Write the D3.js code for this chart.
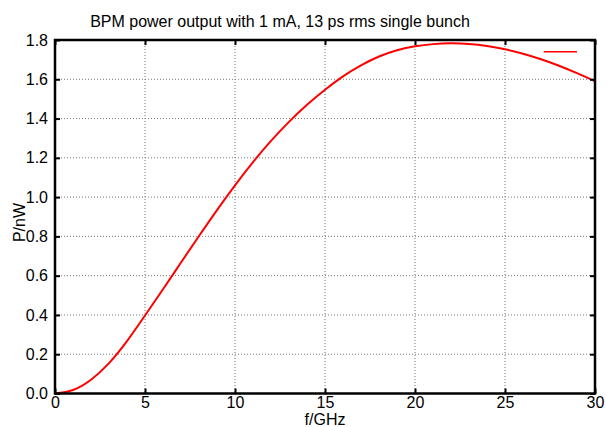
<!DOCTYPE html>
<html>
<head>
<meta charset="utf-8">
<script src="https://cdn.jsdelivr.net/npm/d3@7"></script>
<style>
  body { margin: 0; background: #fff; }
  text { font-family: "Liberation Sans", Arial, sans-serif; fill: #000; }
</style>
</head>
<body>
<div id="chart"></div>
<script>
// Valeurs (f en GHz, P en nW)
const freqGHz = [0, 1, 2, 3, 4, 5, 6, 7, 8, 9, 10, 11, 12, 13, 14, 15,
  16, 17, 18, 19, 20, 21, 22, 23, 24, 25, 26, 27, 28, 29, 30];
const powerNW = [0, 0.018, 0.07, 0.155, 0.267, 0.397, 0.531, 0.667, 0.802, 0.934, 1.06, 1.178, 1.286, 1.383, 1.47, 1.547,
  1.615, 1.671, 1.716, 1.748, 1.768, 1.779, 1.783, 1.78, 1.77, 1.753, 1.73, 1.702, 1.669, 1.631, 1.59];
const xTicks = [0, 5, 10, 15, 20, 25, 30];
const yTicks = [0, 0.2, 0.4, 0.6, 0.8, 1.0, 1.2, 1.4, 1.6, 1.8];
const titleText = "BPM power output with 1 mA, 13 ps rms single bunch";

function renderChart() {
  const W = 606, H = 427;
  const margin = { top: 40, right: 11, bottom: 33.5, left: 55 };
  const width = W - margin.left - margin.right;
  const height = H - margin.top - margin.bottom;

  const svg = d3.select("#chart").append("svg")
    .attr("width", W).attr("height", H);
  const g = svg.append("g")
    .attr("transform", `translate(${margin.left},${margin.top})`);

  const x = d3.scaleLinear().domain([0, 30]).range([0, width]);
  const y = d3.scaleLinear().domain([0, 1.8]).range([height, 0]);

  // Grille pointillée
  g.selectAll(".gx").data(xTicks.slice(1, -1)).enter().append("line")
    .attr("x1", d => x(d)).attr("x2", d => x(d))
    .attr("y1", 0).attr("y2", height)
    .attr("stroke", "#777").attr("stroke-width", 1)
    .attr("stroke-dasharray", "1,2");
  g.selectAll(".gy").data(yTicks.slice(1, -1)).enter().append("line")
    .attr("x1", 0).attr("x2", width)
    .attr("y1", d => y(d)).attr("y2", d => y(d))
    .attr("stroke", "#777").attr("stroke-width", 1)
    .attr("stroke-dasharray", "1,2");

  // Courbe
  const line = d3.line()
    .x((d, i) => x(freqGHz[i]))
    .y(d => y(d))
    .curve(d3.curveNatural);
  g.append("path")
    .datum(powerNW)
    .attr("d", line)
    .attr("fill", "none")
    .attr("stroke", "#ff0000")
    .attr("stroke-width", 2);

  // Axes (ticks vers l'intérieur sur les quatre côtés)
  const tk = 5;
  const bottom = g.append("g").attr("transform", `translate(0,${height})`)
    .call(d3.axisBottom(x).tickValues(xTicks).tickSize(-tk).tickPadding(3).tickFormat(d3.format("d")));
  const top = g.append("g")
    .call(d3.axisTop(x).tickValues(xTicks).tickSize(-tk).tickFormat(""));
  const left = g.append("g")
    .call(d3.axisLeft(y).tickValues(yTicks).tickSize(-tk).tickPadding(7).tickFormat(d3.format(".1f")));
  const right = g.append("g").attr("transform", `translate(${width},0)`)
    .call(d3.axisRight(y).tickValues(yTicks).tickSize(-tk).tickFormat(""));

  [bottom, top, left, right].forEach(a => {
    a.selectAll(".domain").remove();
    a.selectAll(".tick line").attr("stroke", "#000").attr("stroke-width", 2);
    a.selectAll("text").style("font-size", "16px")
      .style("font-family", "'Liberation Sans', Arial, sans-serif").attr("fill", "#000");
  });

  // Cadre
  g.append("rect")
    .attr("x", 0).attr("y", 0).attr("width", width).attr("height", height)
    .attr("fill", "none").attr("stroke", "#000").attr("stroke-width", 2.5);

  // Légende (titre vide)
  g.append("line")
    .attr("x1", x(27.15)).attr("x2", x(29.0))
    .attr("y1", y(1.74)).attr("y2", y(1.74))
    .attr("stroke", "#ff0000").attr("stroke-width", 1.5);

  // Titres
  svg.append("text")
    .attr("x", 280).attr("y", 27)
    .attr("text-anchor", "middle")
    .style("font-size", "16px")
    .text(titleText);
  svg.append("text")
    .attr("x", margin.left + width / 2).attr("y", 425)
    .attr("text-anchor", "middle")
    .style("font-size", "16px")
    .text("f/GHz");
  svg.append("text")
    .attr("transform", "translate(25,222.5) rotate(-90)")
    .attr("text-anchor", "middle")
    .style("font-size", "16px")
    .text("P/nW");
}

renderChart();
</script>
</body>
</html>
